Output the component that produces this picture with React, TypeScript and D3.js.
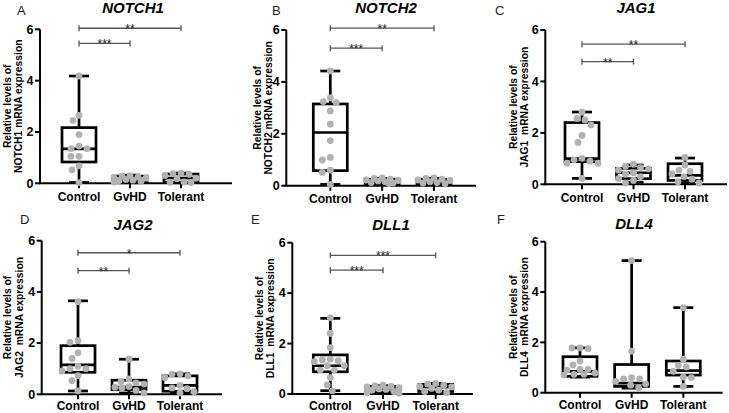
import React from 'react';
import * as d3 from 'd3';

// ---------- data ----------
const groups = ['Control', 'GvHD', 'Tolerant'];
const yTicks = [0, 2, 4, 6];
const panelLetters = ['A', 'B', 'C', 'D', 'E', 'F'];
const genes = ['NOTCH1', 'NOTCH2', 'JAG1', 'JAG2', 'DLL1', 'DLL4'];
const yLabelLine1 = 'Relative levels of';
const yLabelLine2 = [
  'NOTCH1 mRNA expression',
  'NOTCH2 mRNA expression',
  'JAG1  mRNA expression',
  'JAG2  mRNA expression',
  'DLL1  mRNA expression',
  'DLL4  mRNA expression',
];

// points (relative expression)
const notch1Control = [4.18, 2.65, 2.45, 1.9, 1.45, 1.35, 1.35, 1.05, 1.05, 0.68, 0.52, 0.03];
const notch1GvHD = [0.3, 0.28, 0.25, 0.22, 0.2, 0.15, 0.12, 0.1, 0.08, 0.05];
const notch1Tolerant = [0.4, 0.38, 0.35, 0.3, 0.2, 0.18, 0.05, 0.04, 0.03];
const notch2Control = [4.42, 3.39, 3.24, 3.2, 2.88, 2.37, 1.74, 1.09, 0.99, 0.6, 0.51, 0.05];
const notch2GvHD = [0.3, 0.28, 0.25, 0.22, 0.2, 0.18, 0.15, 0.12, 0.1, 0.08];
const notch2Tolerant = [0.3, 0.28, 0.25, 0.22, 0.2, 0.15, 0.12, 0.1, 0.08];
const jag1Control = [2.81, 2.56, 2.5, 2.31, 1.9, 1.63, 1.01, 0.95, 0.9, 0.82, 0.82, 0.23];
const jag1GvHD = [0.78, 0.7, 0.65, 0.6, 0.55, 0.45, 0.4, 0.3, 0.22, 0.15, 0.05];
const jag1Tolerant = [1.05, 0.75, 0.55, 0.5, 0.4, 0.3, 0.2, 0.1, 0.05];
const jag2Control = [3.62, 2.1, 2.03, 1.62, 1.4, 1.1, 1.0, 1.0, 0.91, 0.73, 0.53, 0.13];
const jag2GvHD = [1.37, 0.6, 0.5, 0.45, 0.4, 0.3, 0.28, 0.25, 0.15, 0.05];
const jag2Tolerant = [0.8, 0.78, 0.72, 0.65, 0.35, 0.25, 0.22, 0.1, 0.05];
const dll1Control = [3.02, 2.4, 1.84, 1.38, 1.35, 1.32, 1.28, 1.12, 1.12, 0.95, 0.95, 0.65, 0.36, 0.12];
const dll1GvHD = [0.35, 0.32, 0.3, 0.28, 0.25, 0.2, 0.18, 0.15, 0.1, 0.05, 0.03];
const dll1Tolerant = [0.42, 0.4, 0.35, 0.3, 0.28, 0.22, 0.15, 0.1, 0.05];
const dll4Control = [1.78, 1.78, 1.75, 1.26, 1.1, 0.93, 0.93, 0.9, 0.78, 0.73, 0.73, 0.7];
const dll4GvHD = [5.25, 1.65, 0.6, 0.55, 0.55, 0.45, 0.35, 0.3, 0.2];
const dll4Tolerant = [3.38, 1.33, 1.08, 1.02, 0.85, 0.62, 0.6, 0.25];

// box stats: [min, q1, median, q3, max]
const notch1Box = [[0.03, 0.83, 1.34, 2.17, 4.18], [0.02, 0.05, 0.14, 0.28, 0.32], [0.02, 0.04, 0.2, 0.36, 0.4]];
const notch2Box = [[0.05, 0.58, 2.05, 3.15, 4.42], [0.05, 0.08, 0.15, 0.25, 0.28], [0.05, 0.08, 0.18, 0.25, 0.28]];
const jag1Box = [[0.23, 0.88, 1.0, 2.4, 2.81], [0.08, 0.22, 0.45, 0.62, 0.75], [0.05, 0.15, 0.35, 0.8, 1.02]];
const jag2Box = [[0.13, 0.86, 1.15, 1.9, 3.65], [0.05, 0.18, 0.28, 0.55, 1.37], [0.05, 0.12, 0.35, 0.72, 0.8]];
const dll1Box = [[0.13, 0.88, 1.12, 1.55, 3.0], [0.03, 0.08, 0.2, 0.3, 0.33], [0.05, 0.1, 0.27, 0.38, 0.42]];
const dll4Box = [[0.62, 0.65, 0.85, 1.43, 1.78], [0.18, 0.25, 0.38, 1.12, 5.25], [0.25, 0.7, 0.88, 1.26, 3.38]];

// significance brackets: [target group, y value, label]
const notch1Sig: [string, number, string][] = [['GvHD', 5.45, '***'], ['Tolerant', 6.04, '**']];
const notch2Sig: [string, number, string][] = [['GvHD', 5.3, '***'], ['Tolerant', 6.07, '**']];
const jag1Sig: [string, number, string][] = [['GvHD', 4.77, '**'], ['Tolerant', 5.45, '**']];
const jag2Sig: [string, number, string][] = [['GvHD', 4.83, '**'], ['Tolerant', 5.53, '*']];
const dll1Sig: [string, number, string][] = [['GvHD', 4.91, '***'], ['Tolerant', 5.5, '***']];
const dll4Sig: [string, number, string][] = [];

const pointSets = [
  [notch1Control, notch1GvHD, notch1Tolerant],
  [notch2Control, notch2GvHD, notch2Tolerant],
  [jag1Control, jag1GvHD, jag1Tolerant],
  [jag2Control, jag2GvHD, jag2Tolerant],
  [dll1Control, dll1GvHD, dll1Tolerant],
  [dll4Control, dll4GvHD, dll4Tolerant],
];
const boxSets = [notch1Box, notch2Box, jag1Box, jag2Box, dll1Box, dll4Box];
const sigSets = [notch1Sig, notch2Sig, jag1Sig, jag2Sig, dll1Sig, dll4Sig];

// ---------- layout ----------
type Layout = {
  ax: number; yTop: number; y0: number; c0: number; c2: number; xEnd: number;
  lx: number; ly: number; tx: number; ty: number; l1: number; l2: number; xl: number;
};
const layouts: Layout[] = [
  { ax: 40, yTop: 29.3, y0: 183.3, c0: 79, c2: 181, xEnd: 232, lx: 17, ly: 15, tx: 133, ty: 13, l1: 11, l2: 22, xl: 17.5 },
  { ax: 286.3, yTop: 30, y0: 185.7, c0: 330.3, c2: 434, xEnd: 476, lx: 272, ly: 15, tx: 386, ty: 13, l1: 261, l2: 272, xl: 17.5 },
  { ax: 545.3, yTop: 30, y0: 184.3, c0: 582, c2: 685, xEnd: 727, lx: 495, ly: 15, tx: 636, ty: 13, l1: 517, l2: 528, xl: 17.5 },
  { ax: 41.7, yTop: 240.7, y0: 394.3, c0: 78, c2: 180, xEnd: 222, lx: 20, ly: 224, tx: 133, ty: 230, l1: 11, l2: 23, xl: 15.5 },
  { ax: 292.3, yTop: 242.7, y0: 394, c0: 330.3, c2: 435.7, xEnd: 473, lx: 251, ly: 224, tx: 391, ty: 230, l1: 263, l2: 274, xl: 15.5 },
  { ax: 545.3, yTop: 241.7, y0: 392.7, c0: 580, c2: 683.3, xEnd: 722.7, lx: 497, ly: 224, tx: 634, ty: 229, l1: 517, l2: 528, xl: 16.5 },
];

const R = 3.4;
const BOX_W = 34;
const CAP_W = 20;
const LW = 2.7;
const FONT = '"Liberation Sans", Arial, Helvetica, sans-serif';

function swarm(vals: number[], y: (v: number) => number, minD: number, maxOff: number): number[] {
  const placed: { x: number; y: number }[] = [];
  const order = vals.map((v, i) => ({ v, i })).sort((a, b) => b.v - a.v);
  const out = new Array(vals.length).fill(0);
  for (const p of order) {
    const py = y(p.v);
    let best = 0;
    let bestD = -Infinity;
    outer: for (let k = 0; k <= maxOff; k++) {
      const cands = k === 0 ? [0] : [-k, k];
      for (const c of cands) {
        const dmin = placed.length ? Math.min(...placed.map(q => Math.hypot(q.x - c, q.y - py))) : Infinity;
        if (dmin >= minD) {
          best = c;
          break outer;
        }
        if (dmin > bestD) { bestD = dmin; best = c; }
      }
    }
    placed.push({ x: best, y: py });
    out[p.i] = best;
  }
  return out;
}

function Panel({ idx }: { idx: number }) {
  const L = layouts[idx];
  const y = d3.scaleLinear().domain([0, 6]).range([L.y0, L.yTop]);
  const x = d3.scalePoint<string>().domain(groups).range([L.c0, L.c2]);
  const pts = pointSets[idx];
  const boxes = boxSets[idx];
  const sigs = sigSets[idx];
  const midY = (L.y0 + L.yTop) / 2;

  return (
    <g>
      <text x={L.lx} y={L.ly} fontFamily={FONT} fontSize={13} fill="#222">{panelLetters[idx]}</text>
      <text x={L.tx} y={L.ty} fontFamily={FONT} fontSize={15} fontWeight="bold" fontStyle="italic" textAnchor="middle" fill="#000">{genes[idx]}</text>
      {/* y label */}
      <text transform={`translate(${L.l1},${midY}) rotate(-90)`} fontFamily={FONT} fontSize={10.3} fontWeight="bold" textAnchor="middle" fill="#000">{yLabelLine1}</text>
      <text transform={`translate(${L.l2},${midY}) rotate(-90)`} fontFamily={FONT} fontSize={10.3} fontWeight="bold" textAnchor="middle" fill="#000" style={{ whiteSpace: 'pre' }}>{yLabelLine2[idx]}</text>
      {/* y axis */}
      <line x1={L.ax} x2={L.ax} y1={y(0)} y2={y(6)} stroke="#000" strokeWidth={2} />
      {yTicks.map(t => (
        <g key={t}>
          <line x1={L.ax - 5} x2={L.ax} y1={y(t)} y2={y(t)} stroke="#000" strokeWidth={2} />
          <text x={L.ax - 6.5} y={y(t) + 4.3} fontFamily={FONT} fontSize={12.5} fontWeight="bold" textAnchor="end">{t}</text>
        </g>
      ))}
      {/* x axis */}
      <line x1={L.ax - 1} x2={L.xEnd} y1={y(0)} y2={y(0)} stroke="#000" strokeWidth={2} />
      {groups.map(g => (
        <g key={g}>
          <line x1={x(g)!} x2={x(g)!} y1={y(0)} y2={y(0) + 5} stroke="#000" strokeWidth={2} />
          <text x={x(g)!} y={y(0) + L.xl} fontFamily={FONT} fontSize={12} fontWeight="bold" textAnchor="middle">{g}</text>
        </g>
      ))}
      {/* boxes */}
      {groups.map((g, gi) => {
        const [mn, q1, md, q3, mx] = boxes[gi];
        const cx = x(g)!;
        return (
          <g key={g} stroke="#000" strokeWidth={LW} fill="none">
            <line x1={cx} x2={cx} y1={y(mx)} y2={y(q3)} />
            <line x1={cx} x2={cx} y1={y(q1)} y2={y(mn)} />
            <line x1={cx - CAP_W / 2} x2={cx + CAP_W / 2} y1={y(mx)} y2={y(mx)} />
            <line x1={cx - CAP_W / 2} x2={cx + CAP_W / 2} y1={y(mn)} y2={y(mn)} />
            <rect x={cx - BOX_W / 2} y={y(q3)} width={BOX_W} height={Math.max(0.1, y(q1) - y(q3))} />
            <line x1={cx - BOX_W / 2} x2={cx + BOX_W / 2} y1={y(md)} y2={y(md)} />
          </g>
        );
      })}
      {/* points */}
      {groups.map((g, gi) => {
        const offs = swarm(pts[gi], y, 7.6, 16);
        return (
          <g key={g} fill="#b2b2b2">
            {pts[gi].map((v, i) => (
              <circle key={i} cx={x(g)! + offs[i]} cy={y(v)} r={R} />
            ))}
          </g>
        );
      })}
      {/* significance */}
      {sigs.map(([target, v, lab], i) => {
        const x1 = x('Control')!;
        const x2 = x(target)!;
        const yy = y(v);
        return (
          <g key={i}>
            <g stroke="#555" strokeWidth={1.3}>
              <line x1={x1} x2={x2} y1={yy} y2={yy} />
              <line x1={x1} x2={x1} y1={yy - 3} y2={yy + 3} />
              <line x1={x2} x2={x2} y1={yy - 3} y2={yy + 3} />
            </g>
            <text x={(x1 + x2) / 2} y={yy + 5} fontFamily={FONT} fontSize={12} textAnchor="middle" fill="#222">{lab}</text>
          </g>
        );
      })}
    </g>
  );
}

export default function App() {
  return (
    <svg width={729} height={413} style={{ position: 'absolute', left: 0, top: 0, background: '#fff' }}>
      <rect width={729} height={413} fill="#fff" />
      {layouts.map((_, i) => <Panel key={i} idx={i} />)}
    </svg>
  );
}
